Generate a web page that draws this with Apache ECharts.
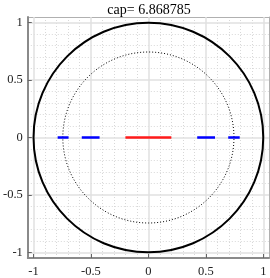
<!DOCTYPE html>
<html><head><meta charset="utf-8">
<script src="https://cdn.jsdelivr.net/npm/echarts@6/dist/echarts.min.js"></script>
<style>html,body{margin:0;padding:0;background:#fff}#c{width:270px;height:278px}</style>
</head><body><div id="c"></div>
<script>
const titleText = 'cap= 6.868785';
const majorTicks = [-1, -0.5, 0, 0.5, 1];
const minorTicks = [-0.9, -0.8, -0.7, -0.6, -0.4, -0.3, -0.2, -0.1, 0.1, 0.2, 0.3, 0.4, 0.6, 0.7, 0.8, 0.9];
// circles: [cx, cy, r]
const solidCircles = [[0, 0, 1]];
const dottedCircles = [[0, 0, 0.745]];
// segments on y=0: [x0, x1]
const redSegments = [[-0.2, 0.2]];
const blueSegments = [[-0.79, -0.695], [-0.58, -0.425], [0.425, 0.58], [0.695, 0.795]];

const AX_MIN = -1.05, AX_MAX = 1.05;
const serif = '"Liberation Serif","DejaVu Serif",serif';

function segData(segs) {
  const out = [];
  segs.forEach((s, i) => { if (i) out.push('-'); out.push([s[0], 0], [s[1], 0]); });
  return out;
}
function circleSeries(data, style) {
  return {
    type: 'custom', xAxisIndex: 0, yAxisIndex: 0, data: data, silent: true, clip: false,
    renderItem: function (params, api) {
      const c = api.coord([api.value(0), api.value(1)]);
      const s = api.size([api.value(2), api.value(2)]);
      return { type: 'ellipse', shape: { cx: c[0], cy: c[1], rx: s[0], ry: s[1] }, style: Object.assign({ fill: null }, style) };
    }
  };
}
function mainAxis(pos) {
  return {
    type: 'value', min: AX_MIN, max: AX_MAX, position: pos,
    axisLine: { show: true, onZero: false, lineStyle: { color: '#8a8a8a', width: 2 } },
    axisTick: { show: true, inside: true, length: 4, customValues: majorTicks, lineStyle: { color: '#666' } },
    axisLabel: { show: true, customValues: majorTicks, fontFamily: serif, fontSize: 12.5, color: '#222', margin: pos === 'left' ? 5 : 7 },
    splitLine: { show: true, lineStyle: { color: '#e0e0e0', width: 1.5 } },
    z: 1
  };
}
function minorAxis(pos) {
  return {
    type: 'value', min: AX_MIN, max: AX_MAX, position: pos,
    axisLine: { show: true, onZero: false, lineStyle: { color: '#b0b0b0', width: 1 } },
    axisTick: { show: false, customValues: minorTicks },
    axisLabel: { show: false, customValues: minorTicks },
    splitLine: { show: true, lineStyle: { color: '#d8d8d8', width: 1, type: [1, 2] } },
    z: 0
  };
}

const chart = echarts.init(document.getElementById('c'), null, { renderer: 'canvas' });
chart.setOption({
  animation: false,
  backgroundColor: '#fff',
  title: { text: titleText, left: 144, textAlign: 'center', top: -2, textStyle: { fontFamily: serif, fontSize: 14, fontWeight: 'normal', color: '#000' } },
  grid: { left: 24, right: 1, top: 17, bottom: 16, containLabel: false },
  xAxis: [mainAxis('bottom'), minorAxis('top')],
  yAxis: [mainAxis('left'), minorAxis('right')],
  series: [
    circleSeries(dottedCircles, { stroke: '#000', lineWidth: 1, lineDash: [1, 2] }),
    circleSeries(solidCircles, { stroke: '#000', lineWidth: 2 }),
    { type: 'line', data: segData(blueSegments), showSymbol: false, connectNulls: false, lineStyle: { color: '#0000ff', width: 2.5 }, silent: true },
    { type: 'line', data: segData(redSegments), showSymbol: false, connectNulls: false, lineStyle: { color: '#ff1a1a', width: 2.5 }, silent: true }
  ]
});
</script></body></html>
